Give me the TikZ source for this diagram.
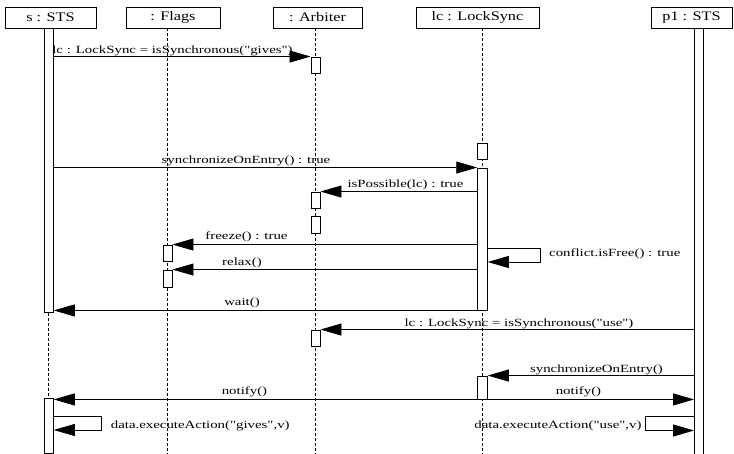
\documentclass[tikz,border=0pt]{standalone}
\usepackage{fontspec}
\usetikzlibrary{arrows.meta}
\newfontfamily\seqfont[FakeStretch=1.35]{Liberation Serif}
\newfontfamily\headfont[FakeStretch=1.25]{Liberation Serif}
\tikzset{
  head/.style={draw, line width=0.9pt, inner sep=0pt, minimum height=21pt,
    font=\headfont\fontsize{13}{15}\selectfont},
  actbar/.style={draw, fill=white, line width=0.9pt, inner sep=0pt, minimum width=9pt},
  lifeline/.style={line width=0.8pt, dash pattern=on 3pt off 2pt},
  msg/.style={line width=0.8pt, -{Triangle[length=21pt,width=12pt]}},
  lbl/.style={font=\seqfont\fontsize{11}{13}\selectfont, inner sep=0pt, anchor=base},
}
\begin{document}
\begin{tikzpicture}[x=1pt,y=-1pt]
\useasboundingbox (0,0) rectangle (734,454);

% object heads
\node[head, minimum width=91pt]  (hS)  at (50.5,17.5)  {s : STS};
\node[head, minimum width=94pt]  (hF)  at (173,17.5)   {: Flags};
\node[head, minimum width=89pt]  (hA)  at (317.5,17.5) {: Arbiter};
\node[head, minimum width=123pt] (hL)  at (477.5,17.5) {lc : LockSync};
\node[head, minimum width=81pt]  (hP)  at (691.5,17.5) {p1 : STS};

% lifelines
\coordinate (fS) at (48.8,454);
\coordinate (fF) at (167.5,454);
\coordinate (fA) at (315.5,454);
\coordinate (fL) at (482.5,454);
\draw[lifeline] (fS |- hS.south) -- (fS);
\draw[lifeline] (fF |- hF.south) -- (fF);
\draw[lifeline] (fA |- hA.south) -- (fA);
\draw[lifeline] (fL |- hL.south) -- (fL);

% activation bars
\node[actbar, minimum height=284pt] (s1) at (48.8,170)   {};
\node[actbar, minimum height=55pt]  (s2) at (48.8,425.5) {};
\node[actbar, minimum height=16pt]  (f1) at (167.5,253)  {};
\node[actbar, minimum height=17pt]  (f2) at (167.5,278.5){};
\node[actbar, minimum height=16pt]  (a1) at (315.5,65)   {};
\node[actbar, minimum height=16pt]  (a2) at (315.5,200)  {};
\node[actbar, minimum height=17pt]  (a3) at (315.5,224.5){};
\node[actbar, minimum height=16pt]  (a4) at (315.5,338)  {};
\node[actbar, minimum height=16pt, minimum width=9.6pt]  (k1) at (482.5,151)   {};
\node[actbar, minimum height=142pt, minimum width=9.6pt] (k2) at (482.5,239)   {};
\node[actbar, minimum height=23pt, minimum width=9.6pt]  (k3) at (482.5,387.5) {};
\node[actbar, minimum height=426pt] (p1) at (699,241) {};

% messages
\draw[msg] (s1.east |- a1.north) -- (a1.north west);
\node[lbl] (t1) at (172.5,54) {lc : LockSync = isSynchronous("gives")};

\draw[msg] (s1.east |- k2.north) -- (k2.north west);
\node[lbl] (t2) at (246,163.5) {synchronizeOnEntry() : true};

\draw[msg] (k2.west |- a2.north) -- (a2.north east);
\node[lbl] (t3) at (405.5,188) {isPossible(lc) : true};

\draw[msg] (k2.west |- f1.north) -- (f1.north east);
\node[lbl] (t4) at (246.5,240) {freeze() : true};

\draw[msg] (k2.west |- f2.north) -- (f2.north east);
\node[lbl] (t5) at (242,265.5) {relax()};

% self call on the lock
\coordinate (c1) at (540,248);
\coordinate (c2) at (540,262);
\draw[msg] (k2.east |- c1) -- (c1) -- (c2) -- (k2.east |- c2);
\node[lbl, anchor=base west] (t6) at (549,256.5) {conflict.isFree() : true};

\draw[msg] (k2.south west) -- (s1.east |- k2.south);
\node[lbl] (t7) at (242,306) {wait()};

\draw[msg] (p1.west |- a4.north) -- (a4.north east);
\node[lbl] (t8) at (519,326.5) {lc : LockSync = isSynchronous("use")};

\draw[msg] (p1.west |- k3.north) -- (k3.north east);
\node[lbl] (t9) at (596.5,373) {synchronizeOnEntry()};

\draw[msg] (k3.south west) -- (s2.east |- k3.south);
\node[lbl] (t10) at (244.5,395) {notify()};

\draw[msg] (k3.south east) -- (p1.west |- k3.south);
\node[lbl] (t11) at (578.5,395) {notify()};

% self calls on both STS objects
\coordinate (g1) at (101.7,416);
\coordinate (g2) at (101.7,430);
\draw[msg] (s2.east |- g1) -- (g1) -- (g2) -- (s2.east |- g2);
\node[lbl, anchor=base west] (t12) at (110.7,428.5) {data.executeAction("gives",v)};

\coordinate (u1) at (645.7,416.5);
\coordinate (u2) at (645.7,430.5);
\draw[msg] (p1.west |- u1) -- (u1) -- (u2) -- (p1.west |- u2);
\node[lbl, anchor=base east] (t13) at (641.7,428.5) {data.executeAction("use",v)};
\end{tikzpicture}
\end{document}
